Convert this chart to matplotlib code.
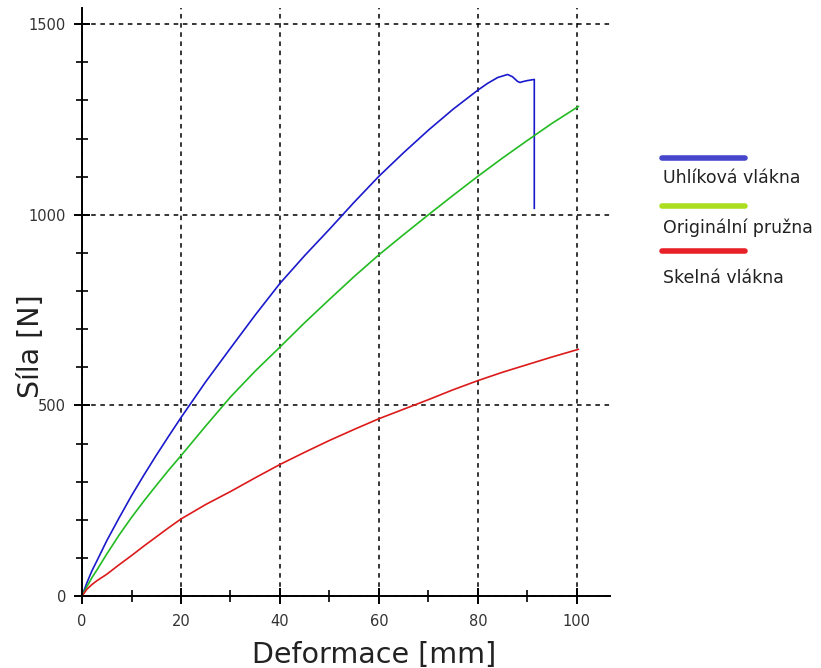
import matplotlib.pyplot as plt
from matplotlib.lines import Line2D
from matplotlib.ticker import MultipleLocator

# Uhlíková vlákna (carbon fibre)
x_uhlik = [0, 1, 2, 3, 5, 7.5, 10, 12.5, 15, 17.5, 20, 25, 30, 35, 40, 45, 50, 55, 60,
           65, 70, 75, 80, 82, 84, 86, 87, 88, 88.5, 89, 90, 91.4, 91.4]
y_uhlik = [0, 35, 66, 92, 145, 205, 263, 317, 369, 419, 468, 562, 650, 737, 820, 893, 962,
           1033, 1101, 1163, 1222, 1277, 1327, 1345, 1360, 1368, 1362, 1350, 1347, 1349,
           1352, 1355, 1017]

# Originální pružna
x_orig = [0, 1, 2, 3, 5, 7.5, 10, 12.5, 15, 17.5, 20, 25, 30, 35, 40, 45, 50, 55, 60,
          65, 70, 75, 80, 85, 90, 95, 100.3]
y_orig = [0, 25, 48, 68, 110, 160, 206, 249, 290, 330, 368, 446, 522, 590, 653, 717, 778,
          838, 895, 948, 1000, 1051, 1101, 1149, 1195, 1240, 1284]

# Skelná vlákna (glass fibre)
x_skelna = [0, 1, 2, 3, 5, 7.5, 10, 12.5, 15, 17.5, 20, 25, 30, 35, 40, 45, 50, 55, 60,
            65, 70, 75, 80, 85, 90, 95, 100.3]
y_skelna = [0, 18, 30, 40, 57, 82, 106, 131, 155, 179, 202, 240, 274, 310, 345, 377, 408,
            437, 465, 490, 515, 541, 565, 587, 607, 627, 647]

labels = ["Uhlíková vlákna", "Originální pružna", "Skelná vlákna"]
line_colors = ["#1a1acc", "#22bb22", "#dd1a1a"]
legend_colors = ["#4646cc", "#aade1e", "#e82028"]

fig = plt.figure(figsize=(8.21, 6.68), dpi=100)
ax = fig.add_axes([0.0999, 0.1078, 0.6431, 0.880])

ax.plot(x_uhlik, y_uhlik, color=line_colors[0], lw=1.2)
ax.plot(x_orig, y_orig, color=line_colors[1], lw=1.2)
ax.plot(x_skelna, y_skelna, color=line_colors[2], lw=1.2)

ax.set_xlim(0, 106.7)
ax.set_ylim(0, 1542)
ax.xaxis.set_major_locator(MultipleLocator(20))
ax.xaxis.set_minor_locator(MultipleLocator(10))
ax.yaxis.set_major_locator(MultipleLocator(500))
ax.yaxis.set_minor_locator(MultipleLocator(100))

ax.grid(True, which="major", color="black", linestyle=(0, (3, 3)), lw=1.1)
for s in ["top", "right"]:
    ax.spines[s].set_visible(False)
for s in ["left", "bottom"]:
    ax.spines[s].set_linewidth(1.4)

ax.tick_params(which="major", direction="inout", length=12, width=1.4,
               labelsize=10.5, labelcolor="#333333")
ax.tick_params(which="minor", direction="inout", length=8, width=1.2)
ax.tick_params(axis="x", pad=7)
ax.tick_params(axis="y", pad=5.5)

ax.set_xlabel("Deformace [mm]", fontsize=20.5, color="#222222")
ax.set_ylabel("Síla [N]", fontsize=20.5, color="#222222")
ax.xaxis.set_label_coords(0.553, -0.076)
ax.yaxis.set_label_coords(-0.071, 0.425)

# legend drawn by hand: thick line above each label, outside the plot
leg_line_y = [0.764, 0.692, 0.624]
leg_text_y = [0.733, 0.659, 0.584]
for lab, c, ly, ty in zip(labels, legend_colors, leg_line_y, leg_text_y):
    fig.add_artist(Line2D([0.806, 0.908], [ly, ly], color=c, lw=4,
                          solid_capstyle="round", transform=fig.transFigure))
    fig.text(0.807, ty, lab, fontsize=12.5, color="#222222", va="center", ha="left")

fig.savefig("out.png", dpi=100)
